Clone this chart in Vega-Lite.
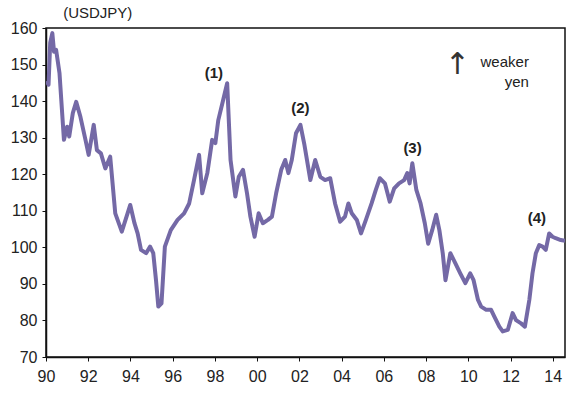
{
  "$schema": "https://vega.github.io/schema/vega-lite/v6.json",
  "autosize": "none",
  "width": 519,
  "height": 329,
  "padding": {"left": 46, "top": 28, "right": 15, "bottom": 38},
  "background": "white",
  "config": {
    "view": {"stroke": "#111", "strokeWidth": 1.5},
    "font": "Liberation Sans"
  },
  "datasets": {
    "fx": [
      {"year": 1990.02, "usdjpy": 145.5},
      {"year": 1990.12, "usdjpy": 144.5},
      {"year": 1990.2, "usdjpy": 156},
      {"year": 1990.3, "usdjpy": 158.6},
      {"year": 1990.38, "usdjpy": 153.5},
      {"year": 1990.48, "usdjpy": 154},
      {"year": 1990.64, "usdjpy": 147.6},
      {"year": 1990.85, "usdjpy": 129.4},
      {"year": 1991.0, "usdjpy": 133},
      {"year": 1991.1, "usdjpy": 130.3},
      {"year": 1991.27, "usdjpy": 136.7},
      {"year": 1991.43, "usdjpy": 139.8},
      {"year": 1991.63, "usdjpy": 135.7},
      {"year": 1991.87, "usdjpy": 129.4},
      {"year": 1992.02, "usdjpy": 125.3},
      {"year": 1992.26, "usdjpy": 133.5},
      {"year": 1992.41, "usdjpy": 126.6},
      {"year": 1992.6, "usdjpy": 125.7},
      {"year": 1992.81, "usdjpy": 121.6},
      {"year": 1993.04, "usdjpy": 124.8},
      {"year": 1993.28, "usdjpy": 109.3},
      {"year": 1993.59, "usdjpy": 104.3},
      {"year": 1993.99, "usdjpy": 111.6},
      {"year": 1994.19, "usdjpy": 106.6},
      {"year": 1994.34, "usdjpy": 103.8},
      {"year": 1994.5, "usdjpy": 99.3},
      {"year": 1994.74, "usdjpy": 98.4},
      {"year": 1994.93, "usdjpy": 100.2},
      {"year": 1995.08, "usdjpy": 98.4},
      {"year": 1995.21, "usdjpy": 91},
      {"year": 1995.32, "usdjpy": 83.8},
      {"year": 1995.47, "usdjpy": 84.7},
      {"year": 1995.63, "usdjpy": 100.2},
      {"year": 1995.91, "usdjpy": 104.7},
      {"year": 1996.23, "usdjpy": 107.5},
      {"year": 1996.54, "usdjpy": 109.3},
      {"year": 1996.78, "usdjpy": 112},
      {"year": 1997.01, "usdjpy": 118.4},
      {"year": 1997.25, "usdjpy": 125.3},
      {"year": 1997.4, "usdjpy": 114.8},
      {"year": 1997.64, "usdjpy": 120.3},
      {"year": 1997.87, "usdjpy": 129.4},
      {"year": 1998.02, "usdjpy": 128.5},
      {"year": 1998.16, "usdjpy": 134.8},
      {"year": 1998.39, "usdjpy": 140.3},
      {"year": 1998.58, "usdjpy": 144.9},
      {"year": 1998.74, "usdjpy": 123.9},
      {"year": 1998.97, "usdjpy": 113.9},
      {"year": 1999.13, "usdjpy": 119.3},
      {"year": 1999.33, "usdjpy": 121.2},
      {"year": 1999.52, "usdjpy": 114.8},
      {"year": 1999.68, "usdjpy": 108.4},
      {"year": 1999.88, "usdjpy": 102.9},
      {"year": 2000.07, "usdjpy": 109.3},
      {"year": 2000.27, "usdjpy": 106.6},
      {"year": 2000.51, "usdjpy": 107.5},
      {"year": 2000.7, "usdjpy": 108.4},
      {"year": 2000.9, "usdjpy": 114.8},
      {"year": 2001.14, "usdjpy": 121.2},
      {"year": 2001.33, "usdjpy": 123.9},
      {"year": 2001.48, "usdjpy": 120.3},
      {"year": 2001.64, "usdjpy": 123.9},
      {"year": 2001.84, "usdjpy": 131.2},
      {"year": 2002.05, "usdjpy": 133.5},
      {"year": 2002.24, "usdjpy": 128},
      {"year": 2002.52, "usdjpy": 118.4},
      {"year": 2002.75, "usdjpy": 123.9},
      {"year": 2002.99, "usdjpy": 119.3},
      {"year": 2003.22, "usdjpy": 118.4},
      {"year": 2003.46, "usdjpy": 118.9},
      {"year": 2003.69, "usdjpy": 112},
      {"year": 2003.93, "usdjpy": 107},
      {"year": 2004.16, "usdjpy": 108.4},
      {"year": 2004.32, "usdjpy": 112},
      {"year": 2004.48, "usdjpy": 109.3},
      {"year": 2004.72, "usdjpy": 107.5},
      {"year": 2004.92, "usdjpy": 103.8},
      {"year": 2005.15, "usdjpy": 107.5},
      {"year": 2005.42, "usdjpy": 112},
      {"year": 2005.62, "usdjpy": 115.7},
      {"year": 2005.81, "usdjpy": 118.9},
      {"year": 2006.05, "usdjpy": 117.5},
      {"year": 2006.28, "usdjpy": 112.5},
      {"year": 2006.49, "usdjpy": 116.1},
      {"year": 2006.72, "usdjpy": 117.5},
      {"year": 2006.96, "usdjpy": 118.4},
      {"year": 2007.11, "usdjpy": 120.3},
      {"year": 2007.22, "usdjpy": 117.5},
      {"year": 2007.35, "usdjpy": 123},
      {"year": 2007.54, "usdjpy": 115.7},
      {"year": 2007.74, "usdjpy": 112},
      {"year": 2007.94, "usdjpy": 106.6},
      {"year": 2008.1, "usdjpy": 101},
      {"year": 2008.29, "usdjpy": 104.7},
      {"year": 2008.48, "usdjpy": 108.9},
      {"year": 2008.63, "usdjpy": 104.7},
      {"year": 2008.79, "usdjpy": 98.4},
      {"year": 2008.92, "usdjpy": 91},
      {"year": 2009.15, "usdjpy": 98.4},
      {"year": 2009.39, "usdjpy": 95.6},
      {"year": 2009.62, "usdjpy": 92.9},
      {"year": 2009.86, "usdjpy": 90.2},
      {"year": 2010.09, "usdjpy": 92.9},
      {"year": 2010.25, "usdjpy": 91},
      {"year": 2010.46, "usdjpy": 85.6},
      {"year": 2010.61, "usdjpy": 83.8},
      {"year": 2010.85, "usdjpy": 82.9},
      {"year": 2011.08, "usdjpy": 82.9},
      {"year": 2011.24, "usdjpy": 81},
      {"year": 2011.47, "usdjpy": 78.3},
      {"year": 2011.63, "usdjpy": 77},
      {"year": 2011.87, "usdjpy": 77.4},
      {"year": 2012.1, "usdjpy": 82},
      {"year": 2012.26, "usdjpy": 80.1},
      {"year": 2012.5, "usdjpy": 79.2},
      {"year": 2012.68, "usdjpy": 78.3},
      {"year": 2012.89, "usdjpy": 85.6},
      {"year": 2013.04, "usdjpy": 92.9},
      {"year": 2013.2, "usdjpy": 98.4},
      {"year": 2013.36, "usdjpy": 100.6},
      {"year": 2013.52, "usdjpy": 100.2},
      {"year": 2013.67, "usdjpy": 99.3},
      {"year": 2013.83, "usdjpy": 103.8},
      {"year": 2013.99, "usdjpy": 102.9},
      {"year": 2014.14, "usdjpy": 102.5},
      {"year": 2014.38, "usdjpy": 102},
      {"year": 2014.58, "usdjpy": 101.8}
    ],
    "peaks": [
      {"year": 1997.95, "usdjpy": 147.7, "label": "(1)"},
      {"year": 2002.05, "usdjpy": 138.1, "label": "(2)"},
      {"year": 2007.36, "usdjpy": 127.2, "label": "(3)"},
      {"year": 2013.25, "usdjpy": 108.0, "label": "(4)"}
    ],
    "note": [
      {"year": 2012.87, "usdjpy": 150.8, "label": "weaker"},
      {"year": 2012.87, "usdjpy": 145.3, "label": "yen"}
    ],
    "arrow": [
      {"year": 2009.48, "usdjpy": 150.0, "label": "↑"}
    ],
    "unit": [
      {"year": 1992.45, "usdjpy": 164.0, "label": "(USDJPY)"}
    ]
  },
  "encoding": {
    "x": {
      "field": "year",
      "type": "quantitative",
      "scale": {"domain": [1990, 2014.58], "nice": false, "zero": false},
      "axis": {
        "title": null,
        "grid": false,
        "values": [1990, 1992, 1994, 1996, 1998, 2000, 2002, 2004, 2006, 2008, 2010, 2012, 2014],
        "labelExpr": "slice(toString(datum.value), 2)",
        "domainColor": "#111",
        "domainWidth": 1.5,
        "tickColor": "#111",
        "tickSize": 4,
        "labelFontSize": 16,
        "labelColor": "#222",
        "labelPadding": 7,
        "labelFlush": false
      }
    },
    "y": {
      "field": "usdjpy",
      "type": "quantitative",
      "scale": {"domain": [70, 160], "nice": false, "zero": false},
      "axis": {
        "title": null,
        "grid": false,
        "values": [70, 80, 90, 100, 110, 120, 130, 140, 150, 160],
        "domainColor": "#111",
        "domainWidth": 1.5,
        "tickColor": "#111",
        "tickSize": 4,
        "labelFontSize": 16,
        "labelColor": "#222",
        "labelPadding": 5
      }
    }
  },
  "layer": [
    {
      "data": {"name": "fx"},
      "mark": {"type": "line", "color": "#7469a6", "strokeWidth": 4, "strokeJoin": "round", "clip": true}
    },
    {
      "data": {"name": "peaks"},
      "mark": {"type": "text", "fontSize": 15, "fontWeight": "bold", "color": "#222"},
      "encoding": {"text": {"field": "label"}}
    },
    {
      "data": {"name": "note"},
      "mark": {"type": "text", "fontSize": 15, "align": "right", "color": "#222"},
      "encoding": {"text": {"field": "label"}}
    },
    {
      "data": {"name": "arrow"},
      "mark": {"type": "text", "fontSize": 30, "font": "DejaVu Sans", "color": "#333"},
      "encoding": {"text": {"field": "label"}}
    },
    {
      "data": {"name": "unit"},
      "mark": {"type": "text", "fontSize": 15, "color": "#222"},
      "encoding": {"text": {"field": "label"}}
    }
  ]
}
